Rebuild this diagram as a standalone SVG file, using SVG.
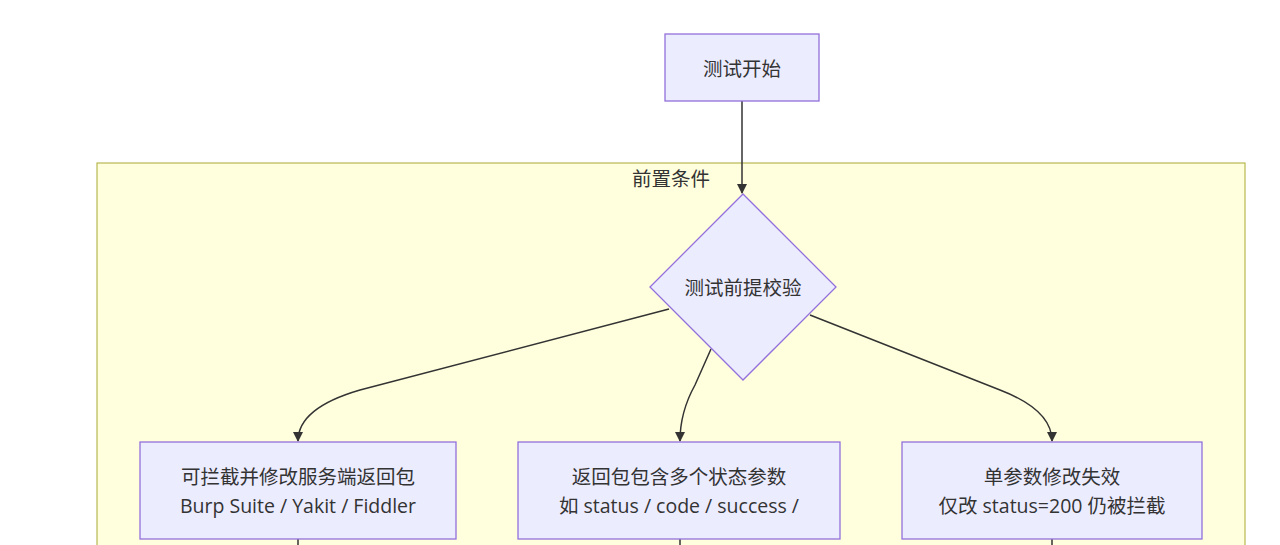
<svg xmlns="http://www.w3.org/2000/svg" width="1280" height="545" viewBox="0 0 1280 545">
<defs>
<style>
.node{fill:#ECECFF;stroke:#9370DB;stroke-width:1.3}
.cluster{fill:#FFFFDE;stroke:#AAAA33;stroke-width:1}
.edge{fill:none;stroke:#333333;stroke-width:1.5}
.t{font-family:"Open Sans","Noto Sans CJK SC",sans-serif;font-size:19.5px;fill:#333333;text-anchor:middle;dominant-baseline:central}
</style>
<marker id="arr" viewBox="0 0 10 10" refX="9" refY="5" markerWidth="10" markerHeight="10" markerUnits="userSpaceOnUse" orient="auto">
<path d="M0,0 L10,5 L0,10 z" fill="#333333"/>
</marker>
</defs>
<rect width="1280" height="545" fill="#FFFFFF"/>
<g id="cluster-precondition">
<rect class="cluster" x="97" y="163" width="1148" height="400"/>
<text class="t" x="671" y="178">前置条件</text>
</g>
<g id="edges">
<path class="edge" d="M742,101 L742,193" marker-end="url(#arr)"/>
<path class="edge" d="M669,309 L360,390 Q298,408 298,441" marker-end="url(#arr)"/>
<path class="edge" d="M711,349 L695,385 Q680,412 680,441" marker-end="url(#arr)"/>
<path class="edge" d="M810,315 L1000,390 Q1052,410 1052,441" marker-end="url(#arr)"/>
<path class="edge" d="M298,539 L298,545"/>
<path class="edge" d="M680,539 L680,545"/>
<path class="edge" d="M1052,539 L1052,545"/>
</g>
<g id="start">
<rect class="node" x="665" y="34" width="154" height="67"/>
<text class="t" x="742" y="68">测试开始</text>
</g>
<g id="check">
<polygon class="node" points="743,194 836,287 743,380 650,287"/>
<text class="t" x="743" y="287">测试前提校验</text>
</g>
<g id="cond1">
<rect class="node" x="140" y="442" width="316" height="97"/>
<text class="t" x="298" y="476">可拦截并修改服务端返回包</text>
<text class="t" x="298" y="505">Burp Suite / Yakit / Fiddler</text>
</g>
<g id="cond2">
<rect class="node" x="518" y="442" width="322" height="97"/>
<text class="t" x="679" y="476">返回包包含多个状态参数</text>
<text class="t" x="679" y="505">如 status / code / success /</text>
</g>
<g id="cond3">
<rect class="node" x="902" y="442" width="300" height="97"/>
<text class="t" x="1052" y="476">单参数修改失效</text>
<text class="t" x="1052" y="505">仅改 status=200 仍被拦截</text>
</g>
</svg>
